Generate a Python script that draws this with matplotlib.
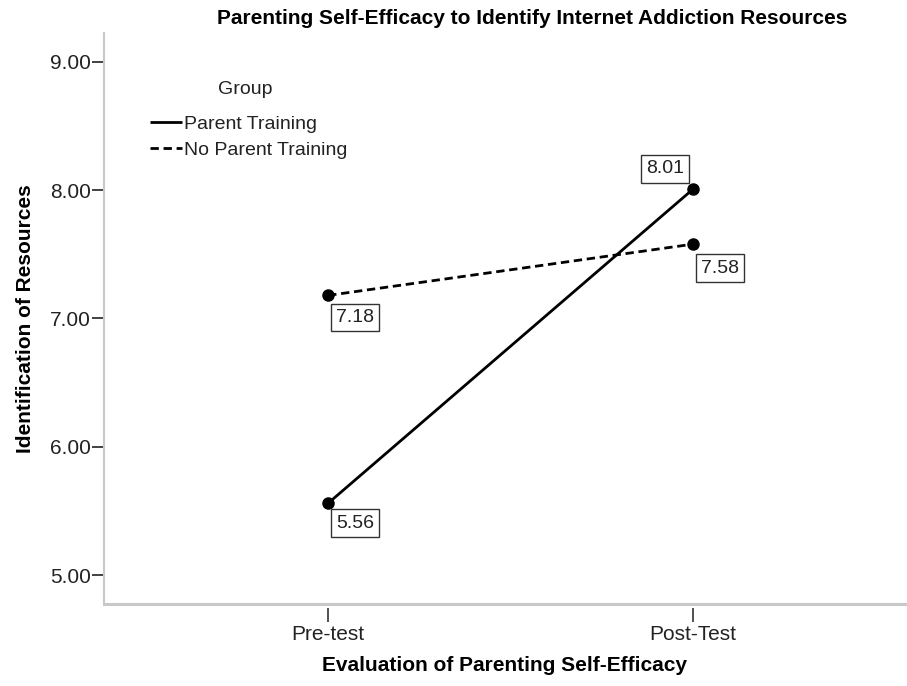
import matplotlib
matplotlib.use("Agg")
import matplotlib.pyplot as plt

plt.rcParams["font.family"] = ["Liberation Sans", "DejaVu Sans"]

# data
phases = ["Pre-test", "Post-Test"]
groups = ["Parent Training", "No Parent Training"]
parent_training = [5.56, 8.01]
no_parent_training = [7.18, 7.58]
y_ticks = [5.0, 6.0, 7.0, 8.0, 9.0]

W, H = 907, 686
fig = plt.figure(figsize=(W / 100, H / 100), dpi=100)
ax = fig.add_axes([104 / W, 1 - 604 / H, (905 - 104) / W, (604 - 33) / H])

x = [1, 2]
ax.plot(x, parent_training, color="black", lw=2.0, marker="o", ms=8,
        label=groups[0], solid_capstyle="butt")
ax.plot(x, no_parent_training, color="black", lw=2.0, marker="o", ms=8,
        ls=(0, (3.0, 1.7)), label=groups[1])

ax.set_xlim(0.386, 2.58)
ax.set_ylim(4.774, 9.226)
ax.set_xticks(x)
ax.set_xticklabels(phases)
ax.set_yticks(y_ticks)
ax.set_yticklabels([f"{v:.2f}" for v in y_ticks])

gray = "#c8c8c8"
for s in ["top", "right"]:
    ax.spines[s].set_visible(False)
ax.spines["left"].set_color(gray)
ax.spines["left"].set_linewidth(1.5)
# x ticks sit a little below the frame line
ax.spines["bottom"].set_position(("outward", 3))
ax.spines["bottom"].set_visible(False)
ax.axhline(4.774, color=gray, lw=2.2, clip_on=False)

ax.tick_params(axis="y", direction="out", length=9, width=1.3, color="#333333",
               labelsize=15, labelcolor="#222222", pad=0.5)
ax.tick_params(axis="x", direction="out", length=10, width=1.2, color="#333333",
               labelsize=15, labelcolor="#222222", pad=2)

# value labels (offsets in pixels converted to points)
px = 72 / 100
labels = [
    (1, parent_training[0], 27, -20),
    (2, parent_training[1], -28, 20),
    (1, no_parent_training[0], 27, -22),
    (2, no_parent_training[1], 27, -24),
]
for xi, yi, dx, dy in labels:
    ax.annotate(f"{yi:.2f}", (xi, yi), xytext=(dx * px, dy * px),
                textcoords="offset points", ha="center", va="center",
                fontsize=14, color="#222222",
                bbox=dict(boxstyle="square,pad=0.27", fc="white",
                          ec="#333333", lw=1.0))

ax.set_xlabel("Evaluation of Parenting Self-Efficacy", fontsize=15,
              fontweight="bold", labelpad=9)
ax.set_ylabel("Identification of Resources", fontsize=15, fontweight="bold",
              labelpad=11)
fig.text(532 / W, 1 - 18 / H,
         "Parenting Self-Efficacy to Identify Internet Addiction Resources",
         ha="center", va="center", fontsize=15, fontweight="bold")

fig.text(245 / W, 1 - 89 / H, "Group", ha="center", va="center",
         fontsize=14, color="#222222")
leg = ax.legend(loc="upper left", bbox_to_anchor=(150 / W, 1 - 115 / H),
                bbox_transform=fig.transFigure, frameon=False,
                fontsize=14, handlelength=1.65, handletextpad=0.1,
                borderpad=0, borderaxespad=0, labelspacing=0.45)
for line in leg.get_lines():
    line.set_marker("")
for t in leg.get_texts():
    t.set_color("#222222")

fig.savefig("out.png", dpi=100)
